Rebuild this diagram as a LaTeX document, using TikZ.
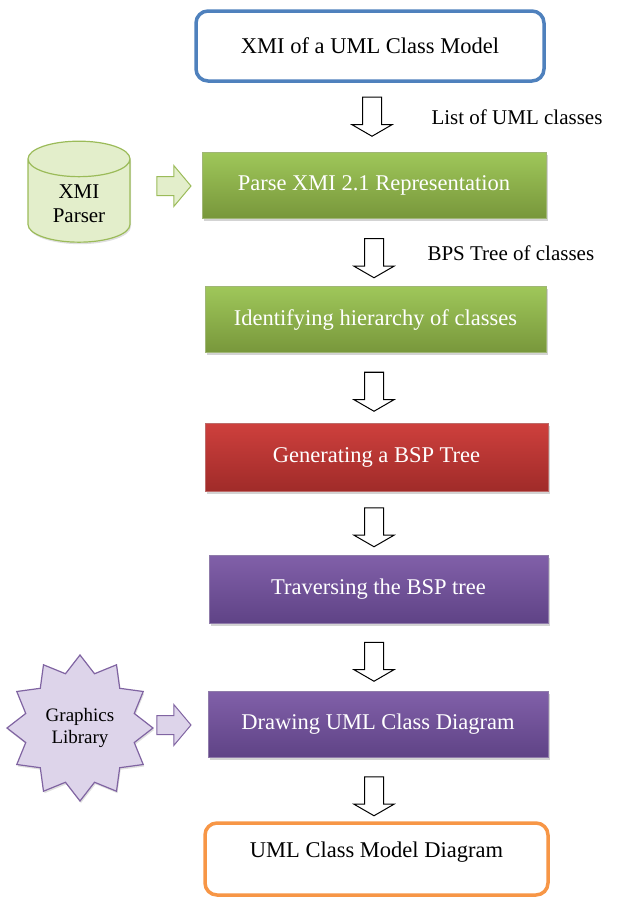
\documentclass[tikz,border=0pt]{standalone}
\usepackage{fontspec}
\setmainfont{Liberation Serif}
\usetikzlibrary{shapes.geometric,shapes.arrows,shadows,positioning,calc}
\definecolor{ModelBlue}{HTML}{4F81BD}
\definecolor{ResultOrange}{HTML}{F79646}
\definecolor{LeafGreenTop}{HTML}{9FC75A}
\definecolor{LeafGreenBot}{HTML}{78973B}
\definecolor{BrickRedTop}{HTML}{CE403D}
\definecolor{BrickRedBot}{HTML}{A02B29}
\definecolor{PlumTop}{HTML}{8160A9}
\definecolor{PlumBot}{HTML}{5F4386}
\definecolor{PaleGreen}{HTML}{E3EECB}
\definecolor{PaleLilac}{HTML}{DDD4EA}
\definecolor{GreenEdge}{HTML}{9BBB59}
\definecolor{LilacEdge}{HTML}{8064A2}

\begin{document}
\begin{tikzpicture}[x=1pt, y=-1pt,
    outline/.style={draw=#1, line width=3.5pt, rounded corners=12pt, fill=white, minimum width=348pt, minimum height=70pt, font=\fontsize{22.5}{27}\selectfont},
    stage/.style={draw=#1Bot!70!white, line width=0.8pt, top color=#1Top, bottom color=#1Bot, text=white, minimum width=341pt, minimum height=66pt, font=\fontsize{22.5}{27}\selectfont, drop shadow={opacity=0.35, shadow xshift=1.5pt, shadow yshift=-2.5pt}},
    flow/.style={single arrow, draw, line width=1pt, fill=white, shape border rotate=270, inner sep=9pt, minimum height=39pt, single arrow head extend=10.5pt, single arrow tip angle=120},
    feed/.style={single arrow, draw=#1, line width=1pt, inner sep=9pt, minimum height=34pt, single arrow head extend=11pt, single arrow tip angle=100},
    lbl/.style={font=\fontsize{21}{25}\selectfont, anchor=west}
  ]
    \useasboundingbox (0,0) rectangle (618,898);
    % Main flow
    \node[outline=ModelBlue] (xmi) at (370,46) {XMI of a UML Class Model};
    \node[stage=LeafGreen, minimum width=344pt] (parse) at (374,185) {Parse XMI 2.1 Representation};
    \node[stage=LeafGreen] (hier) at (375.5,319.5) {Identifying hierarchy of classes};
    \node[stage=BrickRed, minimum width=343pt, minimum height=68pt] (gen) at (376.5,457) {Generating a BSP Tree};
    \node[stage=Plum, minimum width=339pt, minimum height=68pt] (trav) at (378.5,589) {Traversing the BSP tree};
    \node[stage=Plum, minimum width=340pt] (draw) at (378,724) {Drawing UML Class Diagram};
    \node[outline=ResultOrange, minimum width=343pt, minimum height=72pt, text depth=18pt] (uml) at (376.5,859) {UML Class Model Diagram};

    % Hollow arrows between stages
    \node[flow] (f1) at (372,114) {};
    \node[flow] (f2) at (374,255.5) {};
    \node[flow] (f3) at (374,389) {};
    \node[flow] (f4) at (374,524.5) {};
    \node[flow] (f5) at (374,659) {};
    \node[flow] (f6) at (374,793.5) {};
    \node[lbl] (l1) at (428,117) {List of UML classes};
    \node[lbl] (l2) at (424,253) {BPS Tree of classes};

    % Side inputs
    \node[cylinder, shape border rotate=90, aspect=0.6, draw=GreenEdge, line width=1.2pt, fill=PaleGreen, minimum width=102pt, minimum height=101pt, align=center, font=\fontsize{21}{24}\selectfont, drop shadow={opacity=0.25, shadow xshift=1pt, shadow yshift=-2pt}] (parser) at (79,204) {XMI\\Parser};
    \node[feed=GreenEdge, fill=PaleGreen] (a1) at (170,186) {};
    \node[star, star points=12, star point ratio=1.3, draw=LilacEdge, line width=1.2pt, fill=PaleLilac, minimum size=146pt, align=center, font=\fontsize{19}{22}\selectfont, drop shadow={opacity=0.25, shadow xshift=1pt, shadow yshift=-2pt}] (glib) at (80,728) {Graphics\\Library};
    \node[feed=LilacEdge, fill=PaleLilac] (a2) at (170,725) {};
  \end{tikzpicture}
\end{document}
